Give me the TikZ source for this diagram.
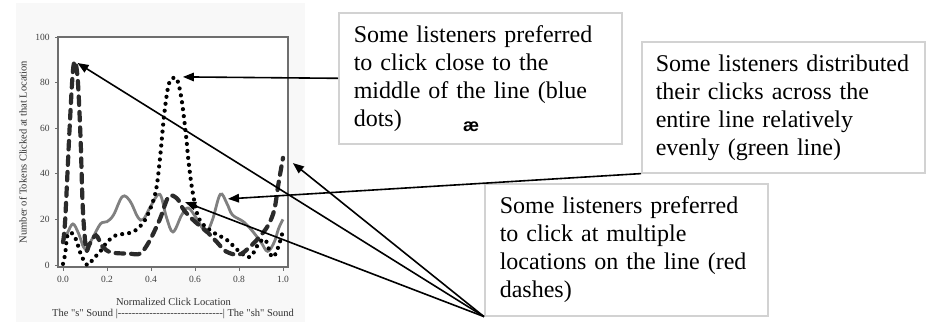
\documentclass[tikz,border=0pt]{standalone}
\usepackage{fontspec}
\setmainfont{Liberation Serif}
\newfontfamily\chartserif{Liberation Serif}[Ligatures=TeXOff]
\newfontfamily\labelsans{Liberation Sans}
\usetikzlibrary{arrows.meta}
\definecolor{framegray}{HTML}{6E6E6E}
\definecolor{boxgray}{HTML}{D2D2D2}
\definecolor{curvegray}{HTML}{808080}
\definecolor{dashdark}{HTML}{2B2B2B}
\definecolor{panelgray}{HTML}{F8F8F8}
\newcommand\dashrun{\foreach \k in {1,...,30}{-{}}}
\tikzset{
  notebox/.style={draw=boxgray, line width=1.6pt, fill=white, anchor=north west,
    align=left, inner xsep=15pt, text width=253pt, minimum height=131pt,
    font=\fontsize{24}{28}\selectfont},
  callout/.style={line width=1.6pt, -{Triangle[length=11pt,width=8.5pt]}},
  ticklbl/.style={font=\chartserif\fontsize{9.5}{11}\selectfont, text=black!75},
  axislbl/.style={font=\chartserif\fontsize{10.5}{12}\selectfont, text=black!80},
  redcurve/.style={dashdark, line width=4.2pt, line cap=round, dash pattern=on 8.5pt off 7pt},
  bluecurve/.style={black, line width=4.2pt, line cap=round, dash pattern=on 0pt off 7pt},
  greencurve/.style={curvegray, line width=2.8pt},
}
\begin{document}
\begin{tikzpicture}[x=1pt,y=-1pt]
\useasboundingbox (0,0) rectangle (930,322);
\fill[panelgray] (16,3) rectangle (305,322);
\fill[white] (58,37) rectangle (288,267);

% chart
\begin{scope}[shift={(63,265)}, x=220pt, y=2.28pt]
\foreach \v in {0,20,...,100}{
  \draw[framegray, line width=0.8pt] (-0.036,\v) -- (-0.023,\v);
  \node[ticklbl, anchor=east] (ytick\v) at (-0.045,\v) {\v};
}
\foreach \t/\lbl in {0/0.0,0.2/0.2,0.4/0.4,0.6/0.6,0.8/0.8,1/1.0}{
  \draw[framegray, line width=0.8pt] (\t,-0.9) -- (\t,-2.5);
  \node[ticklbl] (xtick\lbl) at (\t,-6.5) {\lbl};
}
\draw[framegray, line width=1.2pt] (-0.023,-0.9) rectangle (1.023,100);

\draw[greencurve] plot[smooth, tension=0.6] coordinates {
  (0,10) (0.02,14) (0.045,18) (0.07,14) (0.1,7) (0.13,11) (0.17,18) (0.2,19)
  (0.23,22) (0.27,30) (0.305,28) (0.34,21) (0.365,20) (0.4,26) (0.44,31)
  (0.47,21) (0.5,14.5) (0.54,22) (0.57,25) (0.61,20) (0.65,14.5) (0.68,20)
  (0.715,31) (0.745,27) (0.77,22) (0.82,19) (0.86,15) (0.9,10) (0.93,6)
  (0.96,10) (0.98,16) (1,20)};
\draw[bluecurve] plot[smooth, tension=0.6] coordinates {
  (0,0.5) (0.01,5) (0.02,13) (0.04,14) (0.06,11) (0.08,5) (0.11,0) (0.14,3)
  (0.17,6) (0.2,10) (0.24,13) (0.3,14) (0.34,16) (0.38,21) (0.42,31.6)
  (0.44,46) (0.46,66) (0.48,79) (0.5,82) (0.52,81) (0.54,72) (0.56,56)
  (0.57,46) (0.59,31.6) (0.62,20) (0.68,14.5) (0.745,11) (0.8,6) (0.85,3.5)
  (0.89,9.5) (0.92,11) (0.95,3.5) (0.975,7) (1,15)};
\draw[redcurve] plot[smooth, tension=0.55] coordinates {
  (0,10) (0.01,20) (0.03,60) (0.045,85) (0.056,89) (0.068,80) (0.08,55)
  (0.09,25) (0.105,7) (0.12,9) (0.15,13) (0.18,8) (0.22,5.5) (0.3,5)
  (0.35,5) (0.39,10) (0.44,20) (0.48,30) (0.52,29) (0.55,24) (0.6,19)
  (0.65,15) (0.7,10) (0.74,6) (0.8,4.5) (0.85,8) (0.89,12) (0.93,17)
  (0.96,24) (0.98,36) (1,47)};

\coordinate (peakleft) at (0.066,88.6);
\coordinate (peakmid) at (0.545,82.5);
\coordinate (humpmid) at (0.555,27.6);
\coordinate (peakright) at (1.045,44.7);
\coordinate (humpright) at (0.75,29);
\end{scope}

\node[axislbl, rotate=90] (ylabel) at (23,152) {Number of Tokens Clicked at that Location};
\node[axislbl] (xlabel) at (173.5,302) {Normalized Click Location};
\node[axislbl] (soundline) at (173,313.5) {The "s" Sound |\dashrun| The "sh" Sound};

% notes
\node[notebox] (boxmid) at (338,12) {Some listeners preferred\\to click close to the\\middle of the line (blue\\dots)};
\node[font=\labelsans\bfseries\fontsize{18}{20}\selectfont] (ash) at (471,127) {æ};
\node[notebox, inner xsep=14pt, text width=255pt] (boxeven) at (641,41) {Some listeners distributed\\their clicks across the\\entire line relatively\\evenly (green line)};
\node[notebox, minimum height=132pt] (boxmulti) at (484,183) {Some listeners preferred\\to click at multiple\\locations on the line (red\\dashes)};

\draw[callout] (boxmid.west) -- (peakmid);
\draw[callout] (boxeven.south west) -- (humpright);
\draw[callout] (boxmulti.south west) -- (peakleft);
\draw[callout] (boxmulti.south west) -- (peakright);
\draw[callout] (boxmulti.south west) -- (humpmid);
\end{tikzpicture}
\end{document}
